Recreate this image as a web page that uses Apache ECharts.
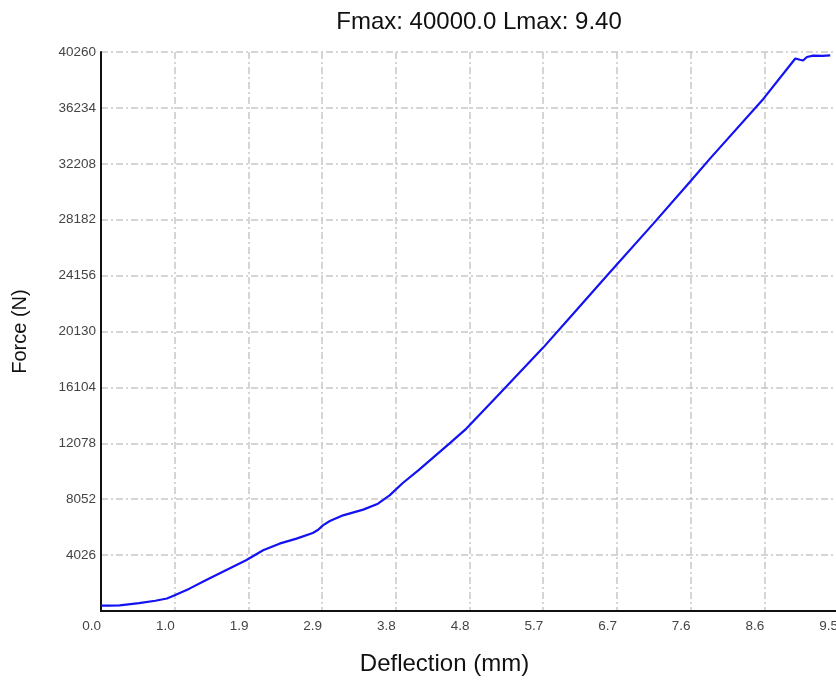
<!DOCTYPE html>
<html>
<head>
<meta charset="utf-8">
<script src="https://cdn.jsdelivr.net/npm/echarts@6/dist/echarts.min.js"></script>
<style>html,body{margin:0;padding:0;background:#fff;}#c{width:836px;height:681px;}</style>
</head>
<body>
<div id="c"></div>
<script>
var titleText = 'Fmax: 40000.0 Lmax: 9.40';
var xName = 'Deflection (mm)';
var yName = 'Force (N)';
var xTickLabels = ['0.0','1.0','1.9','2.9','3.8','4.8','5.7','6.7','7.6','8.6','9.5'];
var yTickLabels = ['','4026','8052','12078','16104','20130','24156','28182','32208','36234','40260'];
var deflection = [0.00,0.10,0.24,0.49,0.70,0.85,0.95,1.14,1.35,1.61,1.87,2.09,2.30,2.52,2.73,2.80,2.86,2.95,3.12,3.38,3.57,3.72,3.89,4.09,4.49,4.71,5.14,5.70,6.09,6.52,7.12,7.59,7.85,8.54,8.95,9.01,9.05,9.10,9.18,9.30,9.40];
var force = [380,390,410,570,740,900,1130,1610,2210,2930,3650,4370,4850,5210,5620,5850,6170,6480,6890,7300,7730,8330,9220,10130,12060,13140,15660,18970,21420,24150,27900,30900,32580,36900,39790,39700,39650,39900,40000,39980,40010];

var pts = deflection.map(function(x,i){return [x, force[i]];});
var font = 'Liberation Sans, Arial, sans-serif';
var gridLine = {show:true, lineStyle:{color:'#c8c8c8', width:1.5, type:[7,3,2,3]}};
var chart = echarts.init(document.getElementById('c'));
chart.setOption({
  animation:false,
  backgroundColor:'#fff',
  title:{text:titleText, left:474, top:5, textAlign:'center',
    textStyle:{fontFamily:font, fontSize:24, fontWeight:'normal', color:'#111'}},
  grid:{left:101, width:737, top:52, height:559, containLabel:false, outerBoundsMode:'none'},
  xAxis:{type:'value', min:0, max:9.5, interval:0.95,
    name:xName, nameLocation:'middle', nameGap:41,
    nameTextStyle:{fontFamily:font, fontSize:24, color:'#111', padding:[0,50,0,0]},
    axisLine:{show:true, lineStyle:{color:'#111', width:2}},
    axisTick:{show:false},
    axisLabel:{fontFamily:font, fontSize:13.5, color:'#444', margin:8, align:'right',
      formatter:function(v,i){return xTickLabels[i]!==undefined?xTickLabels[i]:'';}},
    splitLine:gridLine},
  yAxis:{type:'value', min:0, max:40260, interval:4026,
    name:yName, nameLocation:'middle', nameGap:71,
    nameTextStyle:{fontFamily:font, fontSize:20, color:'#111'},
    axisLine:{show:true, lineStyle:{color:'#111', width:2}},
    axisTick:{show:false},
    axisLabel:{fontFamily:font, fontSize:13.5, color:'#444', margin:5,
      formatter:function(v,i){return yTickLabels[i]!==undefined?yTickLabels[i]:'';}},
    splitLine:gridLine},
  series:[{type:'line', data:pts, showSymbol:false, symbol:'none',
    lineStyle:{color:'#1212f2', width:2.2}, z:5}]
});
</script>
</body>
</html>
